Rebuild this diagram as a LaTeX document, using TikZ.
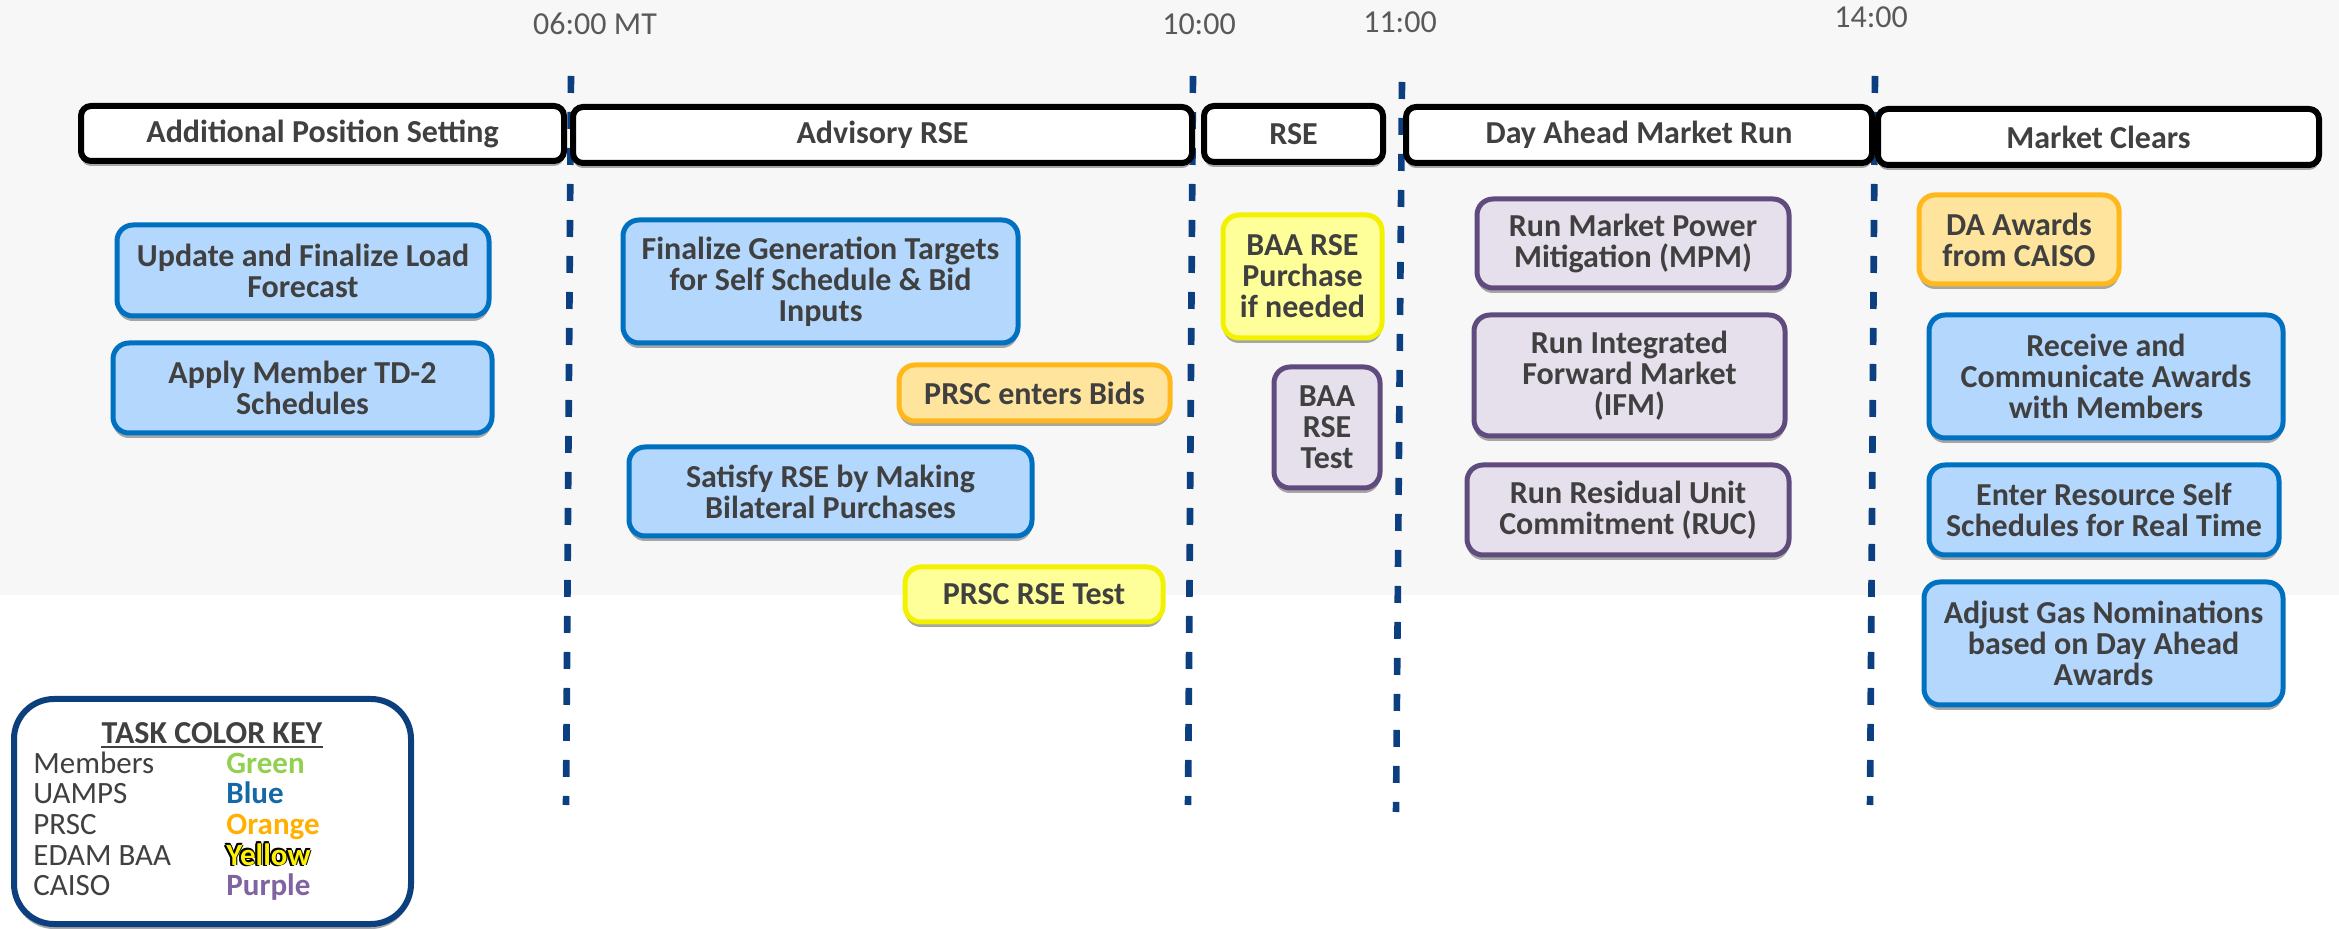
\documentclass[tikz,border=0pt]{standalone}
\usepackage{fontspec}
\setmainfont{Carlito}
\usetikzlibrary{fit,shadows}
\definecolor{bgray}{HTML}{F7F7F7}
\definecolor{txt}{HTML}{404040}
\definecolor{timec}{HTML}{595959}
\definecolor{dashc}{HTML}{0B3F80}
\definecolor{bluefill}{HTML}{B4D7FD}
\definecolor{blueline}{HTML}{0070C0}
\definecolor{orfill}{HTML}{FFE49E}
\definecolor{orline}{HTML}{FFB81C}
\definecolor{yefill}{HTML}{FFFF99}
\definecolor{yeline}{HTML}{F2F200}
\definecolor{pufill}{HTML}{E6E0EC}
\definecolor{puline}{HTML}{5F4B7D}
\definecolor{shade}{HTML}{A6A6A6}
\definecolor{keyline}{HTML}{0B3F7E}
\definecolor{kgreen}{HTML}{92D050}
\definecolor{kblue}{HTML}{1469A6}
\definecolor{korange}{HTML}{FFB000}
\definecolor{kpurple}{HTML}{8064A2}
\tikzset{
  shad/.style={drop shadow={shadow xshift=0pt,shadow yshift=-2.5pt,fill=shade,opacity=1}},
  boxbase/.style={shad, rounded corners=8pt, line width=2.5pt, inner sep=0pt},
  bluebox/.style={boxbase, draw=blueline, fill=bluefill},
  orbox/.style={boxbase, draw=orline, fill=orfill},
  yebox/.style={boxbase, draw=yeline, fill=yefill},
  pubox/.style={boxbase, draw=puline, fill=pufill},
  hdrbox/.style={shad, draw=black, fill=white, line width=3pt, rounded corners=5pt, inner sep=0pt},
  boxtext/.style={inner sep=0pt, align=center, text=txt, anchor=center,
    font=\fontsize{16}{15.5}\selectfont\bfseries},
  keybox/.style={shad, draw=keyline, fill=white, line width=3pt, rounded corners=20pt, inner sep=0pt},
  timelbl/.style={text=timec, inner sep=0pt, anchor=base, font=\fontsize{16}{18}\selectfont},
  keytxt/.style={text=txt, inner sep=0pt, anchor=base west, font=\fontsize{15.5}{17}\selectfont},
  keycol/.style={inner sep=0pt, anchor=base west, font=\fontsize{15.5}{17}\selectfont\bfseries},
  dline/.style={draw=dashc, line width=3.3pt, dash pattern=on 8.5pt off 9.5pt},
}
\newcommand\mybox[7]{%
  \node[#2, fit={(#3+2,#4+2) (#5-2,#6-2)}] (#1) {};
  \node[boxtext] (#1txt) at (#1.center) {#7};}
\begin{document}
\begin{tikzpicture}[x=0.5pt,y=-0.5pt]
\useasboundingbox (0,0) rectangle (2339,929);
\fill[bgray] (0,0) rectangle (2339,595);

% time labels
\node[timelbl] (t06) at (595,35) {06:00 MT};
\node[timelbl] (t10) at (1199,35) {10:00};
\node[timelbl] (t11) at (1400,33) {11:00};
\node[timelbl] (t14) at (1871,28) {14:00};

% dashed time lines
\coordinate (l1t) at (571,76);  \coordinate (l1b) at (566,805);
\coordinate (l2t) at (1193,76); \coordinate (l2b) at (1188,805);
\coordinate (l3t) at (1402,82); \coordinate (l3b) at (1396,812);
\coordinate (l4t) at (1875,76); \coordinate (l4b) at (1870,805);
\draw[dline] (l1t) -- (l1b);
\draw[dline] (l2t) -- (l2b);
\draw[dline] (l3t) -- (l3b);
\draw[dline] (l4t) -- (l4b);

% phase headers
\mybox{hAPS}{hdrbox}{79}{104}{566}{163}{Additional Position Setting}
\mybox{hADV}{hdrbox}{571}{105}{1194}{165}{Advisory RSE}
\mybox{hRSE}{hdrbox}{1202}{104}{1385}{164}{RSE}
\mybox{hDAM}{hdrbox}{1404}{105}{1874}{165}{Day Ahead Market Run}
\mybox{hMC}{hdrbox}{1876}{107}{2321}{167}{Market Clears}

% tasks
\mybox{tLoad}{bluebox}{115}{223}{491}{318}{Update and Finalize Load\\Forecast}
\mybox{tTD}{bluebox}{111}{341}{494}{435}{Apply Member TD-2\\Schedules}
\mybox{tGen}{bluebox}{621}{218}{1020}{345}{Finalize Generation Targets\\for Self Schedule \& Bid\\Inputs}
\mybox{tBids}{orbox}{897}{363}{1172}{423}{PRSC enters Bids}
\mybox{tSat}{bluebox}{627}{445}{1034}{538}{Satisfy RSE by Making\\Bilateral Purchases}
\mybox{tPTest}{yebox}{903}{565}{1165}{624}{PRSC RSE Test}
\mybox{tBPur}{yebox}{1221}{213}{1384}{340}{BAA RSE\\Purchase\\if needed}
\mybox{tBTest}{pubox}{1272}{365}{1382}{490}{BAA\\RSE\\Test}
\mybox{tMPM}{pubox}{1475}{197}{1791}{290}{Run Market Power\\Mitigation (MPM)}
\mybox{tIFM}{pubox}{1472}{313}{1787}{438}{Run Integrated\\Forward Market\\(IFM)}
\mybox{tRUC}{pubox}{1465}{463}{1791}{557}{Run Residual Unit\\Commitment (RUC)}
\mybox{tDA}{orbox}{1917}{193}{2121}{286}{DA Awards\\from CAISO}
\mybox{tRecv}{bluebox}{1927}{313}{2285}{440}{Receive and\\Communicate Awards\\with Members}
\mybox{tEnter}{bluebox}{1927}{463}{2281}{557}{Enter Resource Self\\Schedules for Real Time}
\mybox{tGas}{bluebox}{1922}{580}{2285}{707}{Adjust Gas Nominations\\based on Day Ahead\\Awards}

% colour key
\node[keybox, fit={(14,699) (411,924)}] (key) {};
\node[inner sep=0pt, anchor=base, text=txt, font=\fontsize{16}{18}\selectfont\bfseries] (ktitle) at (212,743) {TASK COLOR KEY};
\draw[txt, line width=1pt] ([yshift=-2.2pt]ktitle.base west) -- ([yshift=-2.2pt]ktitle.base east);
\node[keytxt] (k1) at (33,773) {Members};
\node[keytxt] (k2) at (33,803) {UAMPS};
\node[keytxt] (k3) at (33,834) {PRSC};
\node[keytxt] (k4) at (33,865) {EDAM BAA};
\node[keytxt] (k5) at (33,895) {CAISO};
\node[keycol, text=kgreen] (c1) at (226,773) {Green};
\node[keycol, text=kblue] (c2) at (226,803) {Blue};
\node[keycol, text=korange] (c3) at (226,834) {Orange};
\foreach \dx/\dy [count=\i] in {-2/0,-1.5/-1.5,0/-1.5,-2/1,1/0}
  \node[keycol, text=black] (cy\i) at (226+\dx,865+\dy) {Yellow};
\node[keycol, text=yellow] (c4) at (226,865) {Yellow};
\node[keycol, text=kpurple] (c5) at (226,895) {Purple};
\end{tikzpicture}
\end{document}
